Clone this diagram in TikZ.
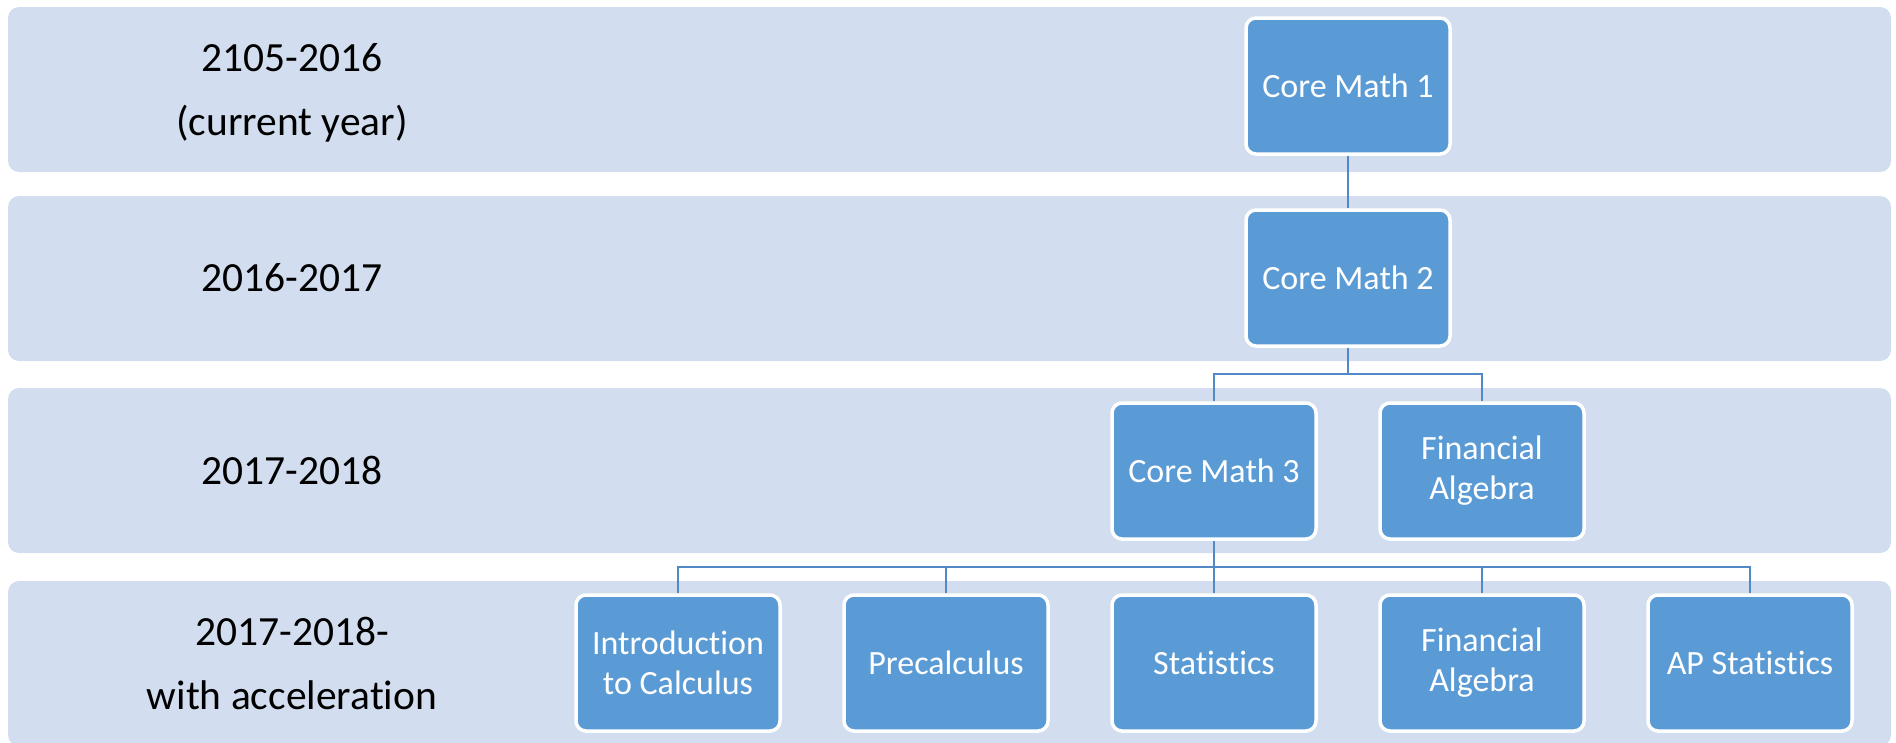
\documentclass[tikz,border=0pt]{standalone}
\usepackage{fontspec}
\setmainfont[RawFeature={-liga}]{Carlito}
\definecolor{bandfill}{HTML}{D2DEEF}
\definecolor{boxblue}{HTML}{5B9BD5}
\definecolor{linkblue}{HTML}{5189C6}
\tikzset{
  band/.style={fill=bandfill, rounded corners=11pt},
  course/.style={rectangle, rounded corners=10pt, fill=boxblue, draw=white,
    line width=3.5pt, minimum width=204pt, minimum height=136pt, inner sep=0pt,
    text=white, align=center, font=\fontsize{34}{40}\selectfont},
  yearlabel/.style={align=center, inner sep=0pt, text=black,
    font=\fontsize{41.5}{64}\selectfont},
  link/.style={draw=linkblue, line width=2.6pt}
}
\begin{document}
\begin{tikzpicture}[x=1pt, y=-1pt]
\useasboundingbox (0,0) rectangle (1896,742);
\begin{scope}
\clip (0,0) rectangle (1896,742);
\fill[band] (8,7) rectangle (1891,172);
\fill[band] (8,196) rectangle (1891,361);
\fill[band] (8,388) rectangle (1891,553);
\fill[band] (8,581) rectangle (1891,746);
\end{scope}

\node[yearlabel] (y1) at (292,93) {2105-2016\\(current year)};
\node[yearlabel] (y2) at (292,278) {2016-2017};
\node[yearlabel] (y3) at (292,470) {2017-2018};
\node[yearlabel] (y4) at (292,663) {2017-2018-\\with acceleration};

\node[course] (cm1) at (1348,86) {Core Math 1};
\node[course] (cm2) at (1348,278) {Core Math 2};
\node[course] (cm3) at (1214,471) {Core Math 3};
\node[course] (fa1) at (1482,471) {Financial\\Algebra};
\node[course] (intro) at (678,663) {Introduction\\to Calculus};
\node[course] (pre) at (946,663) {Precalculus};
\node[course] (stat) at (1214,663) {Statistics};
\node[course] (fa2) at (1482,663) {Financial\\Algebra};
\node[course] (aps) at (1750,663) {AP Statistics};

\coordinate (j1) at (1348,374);
\coordinate (j2) at (1214,567);

\draw[link] (cm1.south) -- (cm2.north);
\draw[link] (cm2.south) -- (j1);
\draw[link] (j1) -| (cm3.north);
\draw[link] (j1) -| (fa1.north);
\draw[link] (cm3.south) -- (j2);
\draw[link] (j2) -| (intro.north);
\draw[link] (j2) -| (pre.north);
\draw[link] (j2) -- (stat.north);
\draw[link] (j2) -| (fa2.north);
\draw[link] (j2) -| (aps.north);
\end{tikzpicture}
\end{document}
